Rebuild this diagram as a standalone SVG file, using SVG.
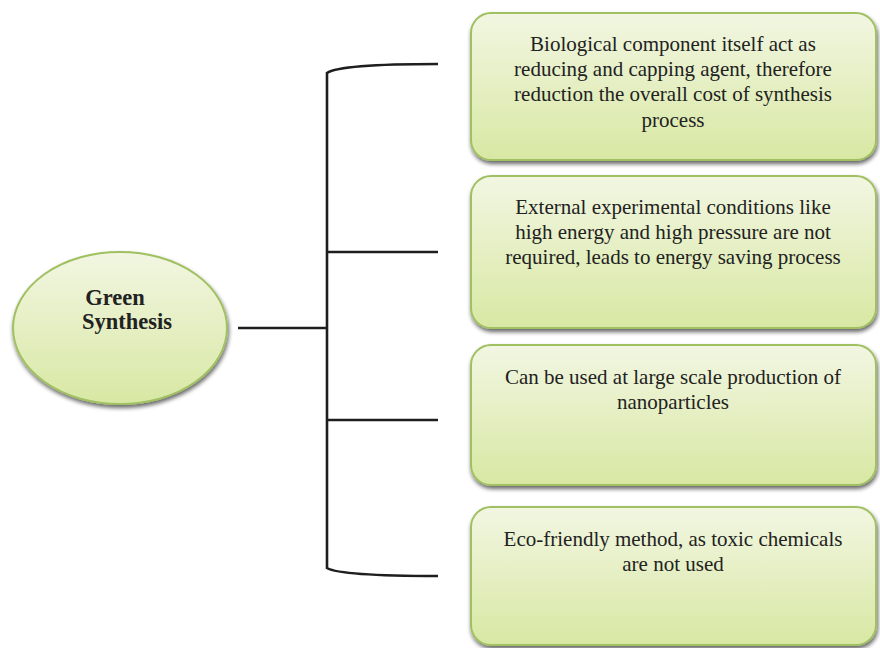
<svg xmlns="http://www.w3.org/2000/svg" width="880" height="648" viewBox="0 0 880 648">
<style>
.box{fill:url(#gBox);stroke:#a0c062;stroke-width:2;filter:url(#sh)}
text{font-family:'Liberation Serif',Tinos,'Times New Roman',Times,'DejaVu Serif',serif;font-size:21px;fill:#222;text-anchor:middle}
.bold{font-weight:bold;font-size:22.5px}
.conn{fill:none;stroke:#1e1e1e;stroke-width:2.6;stroke-linecap:butt}
</style>
<defs>
<linearGradient id="gBox" x1="0" y1="0" x2="0" y2="1">
<stop offset="0" stop-color="#f2f6e2"/>
<stop offset="1" stop-color="#d8e8a3"/>
</linearGradient>
<filter id="sh" x="-10%" y="-10%" width="120%" height="130%">
<feGaussianBlur in="SourceAlpha" stdDeviation="2"/>
<feOffset dx="1" dy="3" result="b"/>
<feComponentTransfer><feFuncA type="linear" slope="0.6"/></feComponentTransfer>
<feMerge><feMergeNode/><feMergeNode in="SourceGraphic"/></feMerge>
</filter>
</defs>
<rect width="880" height="648" fill="#ffffff"/>
<g id="connectors">
<path class="conn" d="M238,328 L327,328"/>
<path class="conn" d="M438,64 C385,64 337,66 327,73 L327,568 C337,574 385,576 438,576"/>
<path class="conn" d="M327,252 L438,252"/>
<path class="conn" d="M327,420 L438,420"/>
</g>
<g id="green-synthesis">
<ellipse cx="120" cy="328" rx="107" ry="76" class="box"/>
<text class="bold" x="115" y="305">Green</text>
<text class="bold" x="127" y="329">Synthesis</text>
</g>
<g id="box1">
<rect x="471" y="13" width="405" height="147" rx="20" class="box"/>
<text x="673" y="51">Biological component itself act as</text>
<text x="673" y="76">reducing and capping agent, therefore</text>
<text x="673" y="101">reduction the overall cost of synthesis</text>
<text x="673" y="127">process</text>
</g>
<g id="box2">
<rect x="471" y="176" width="405" height="152" rx="20" class="box"/>
<text x="673" y="214">External experimental conditions like</text>
<text x="673" y="239">high energy and high pressure are not</text>
<text x="673" y="264">required, leads to energy saving process</text>
</g>
<g id="box3">
<rect x="471" y="345" width="405" height="140" rx="20" class="box"/>
<text x="673" y="384">Can be used at large scale production of</text>
<text x="673" y="409">nanoparticles</text>
</g>
<g id="box4">
<rect x="471" y="507" width="405" height="138" rx="20" class="box"/>
<text x="673" y="546">Eco-friendly method, as toxic chemicals</text>
<text x="673" y="571">are not used</text>
</g>
</svg>
